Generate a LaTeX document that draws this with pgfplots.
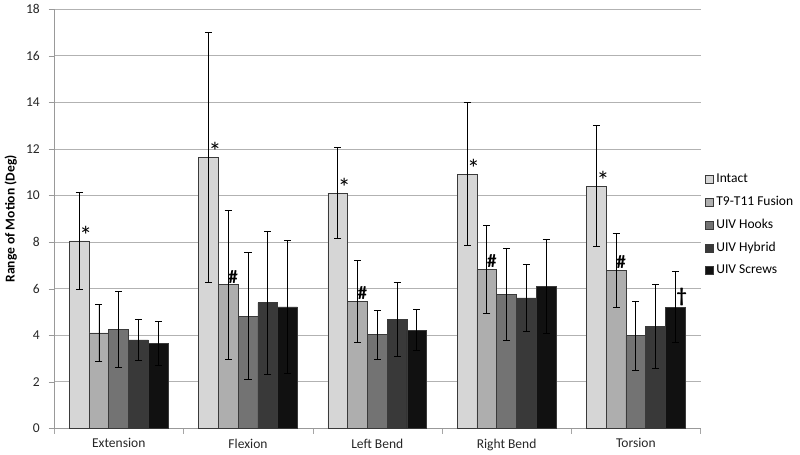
\documentclass[border=0pt]{standalone}
\usepackage{pgfplots}
\pgfplotsset{compat=1.18}
\usepackage{fontspec}
\setmainfont{Carlito}
\definecolor{cA}{HTML}{D6D6D6}
\definecolor{cB}{HTML}{AEAEAE}
\definecolor{cC}{HTML}{737373}
\definecolor{cD}{HTML}{393939}
\definecolor{cE}{HTML}{111111}
\definecolor{edge}{HTML}{3A3A3A}
\begin{document}
\begin{tikzpicture}
\begin{axis}[
  scale only axis, width=478pt, height=310pt,
  ymin=0, ymax=18, ytick={0,2,...,18},
  xmin=-0.5, xmax=4.5,
  xtick={0,1,2,3,4},
  xticklabels={Extension,Flexion,Left Bend,Right Bend,Torsion},
  major x tick style={draw=none},
  minor xtick={-0.5,0.5,1.5,2.5,3.5,4.5},
  minor x tick style={draw=gray!70},
  minor tick length=4pt,
  major tick length=4pt,
  tick align=outside,
  axis x line*=bottom, axis y line*=left,
  axis line style={gray!80, -},
  ytick style={gray!80},
  ymajorgrids, grid style={gray!60, line width=0.6pt},
  tick label style={font=\fontsize{10}{12}\selectfont, text=black!85},
  /pgf/number format/assume math mode=true,
  yticklabel style={xshift=-3pt},
  xticklabel style={yshift=0pt},
  ylabel={\bfseries Range of Motion (Deg)},
  ylabel style={font=\fontsize{10}{12}\selectfont, yshift=0pt},
  ybar, bar width=0.153,
  legend style={at={(rel axis cs:1.0,0.485)}, anchor=west, draw=none,
    font=\fontsize{10}{12}\selectfont, row sep=4.5pt, xshift=0pt,
    legend cell align=left},
  legend image code/.code={\draw[#1, draw=edge] (0pt,-3pt) rectangle (6pt,3pt);},
  every axis plot/.append style={draw=edge, line width=0.5pt},
  error bars/y dir=both, error bars/y explicit,
  error bars/error bar style={black, line width=0.6pt},
  error bars/error mark options={rotate=90, black, mark size=2.6pt, line width=0.6pt},
]
\addplot[fill=cA, bar shift=-0.306] coordinates {(0,8.05) +- (0,2.07) (1,11.65) +- (0,5.37) (2,10.1) +- (0,1.95) (3,10.92) +- (0,3.08) (4,10.4) +- (0,2.6)};
\addplot[fill=cB, bar shift=-0.153] coordinates {(0,4.1) +- (0,1.22) (1,6.17) +- (0,3.2) (2,5.45) +- (0,1.75) (3,6.82) +- (0,1.88) (4,6.78) +- (0,1.58)};
\addplot[fill=cC, bar shift=0] coordinates {(0,4.25) +- (0,1.63) (1,4.82) +- (0,2.73) (2,4.03) +- (0,1.05) (3,5.75) +- (0,1.98) (4,3.98) +- (0,1.47)};
\addplot[fill=cD, bar shift=0.153] coordinates {(0,3.8) +- (0,0.9) (1,5.4) +- (0,3.08) (2,4.68) +- (0,1.57) (3,5.6) +- (0,1.45) (4,4.38) +- (0,1.82)};
\addplot[fill=cE, bar shift=0.306] coordinates {(0,3.65) +- (0,0.93) (1,5.22) +- (0,2.85) (2,4.22) +- (0,0.88) (3,6.08) +- (0,2.02) (4,5.2) +- (0,1.52)};
\legend{Intact,T9-T11 Fusion,UIV Hooks,UIV Hybrid,UIV Screws}
\node[font=\fontsize{19}{19}\selectfont, anchor=south, inner sep=0pt] at (axis cs:-0.255,7.9) {*};
\node[font=\fontsize{19}{19}\selectfont, anchor=south, inner sep=0pt] at (axis cs:0.745,11.5) {*};
\node[font=\fontsize{19}{19}\selectfont, anchor=south, inner sep=0pt] at (axis cs:1.745,9.95) {*};
\node[font=\fontsize{19}{19}\selectfont, anchor=south, inner sep=0pt] at (axis cs:2.745,10.77) {*};
\node[font=\fontsize{19}{19}\selectfont, anchor=south, inner sep=0pt] at (axis cs:3.745,10.25) {*};
\node[font=\bfseries\fontsize{14}{14}\selectfont, anchor=south, inner sep=1pt] at (axis cs:0.885,6.17) {\#};
\node[font=\bfseries\fontsize{14}{14}\selectfont, anchor=south, inner sep=1pt] at (axis cs:1.885,5.45) {\#};
\node[font=\bfseries\fontsize{14}{14}\selectfont, anchor=south, inner sep=1pt] at (axis cs:2.885,6.82) {\#};
\node[font=\bfseries\fontsize{14}{14}\selectfont, anchor=south, inner sep=1pt] at (axis cs:3.885,6.78) {\#};
\node[font=\bfseries\fontsize{15}{15}\selectfont, anchor=south, inner sep=1pt] at (axis cs:4.355,5.2) {\textdagger};
\end{axis}
\end{tikzpicture}
\end{document}
